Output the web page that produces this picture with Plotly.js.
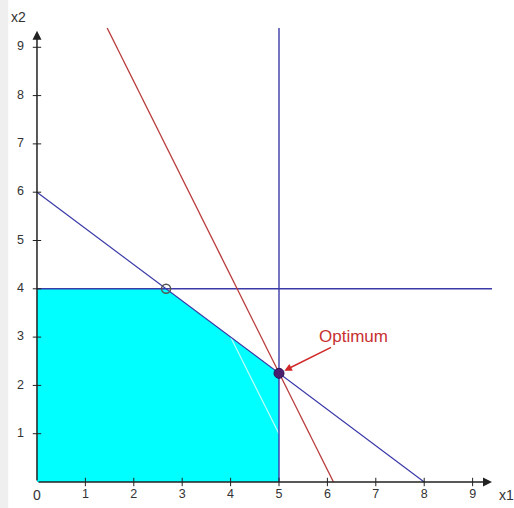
<!DOCTYPE html>
<html>
<head>
<meta charset="utf-8">
<script src="https://cdn.plot.ly/plotly-3.0.1.min.js"></script>
<style>
  html, body { margin: 0; padding: 0; background: #fff; }
  #chart { width: 514px; height: 508px; }
</style>
</head>
<body>
<div id="chart"></div>
<script>
// tick values on both axes
var ticks = [1, 2, 3, 4, 5, 6, 7, 8, 9];

// feasible region (cyan)
var feasX = [0, 5, 5, 2.667, 0];
var feasY = [0, 0, 2.25, 4, 4];

// constraint lines
var diagX = [0, 8];      var diagY = [6, 0];
var capX = [0, 9.4];     var capY = [4, 4];
var limX = [5, 5];       var limY = [0, 9.4];

// objective line and its earlier (faint) position
var objX = [1.45, 6.125]; var objY = [9.4, 0];
var oldX = [4.0, 5.0];    var oldY = [3.0, 1.0];

// points
var vertexX = [2.667];  var vertexY = [4];
var optX = [5];         var optY = [2.25];

var blue = '#3a3aa8';
var red = '#b83a3a';

var zeros = ticks.map(function () { return 0; });
var labelFont = { family: 'Liberation Sans, Arial, sans-serif', size: 12.5, color: '#333' };

var data = [
  { x: feasX, y: feasY, mode: 'lines', fill: 'toself', fillcolor: '#00ffff',
    line: { width: 0 } },
  { x: oldX, y: oldY, mode: 'lines', line: { color: 'rgba(255,255,255,0.75)', width: 1.2 } },
  { x: diagX, y: diagY, mode: 'lines', line: { color: blue, width: 1.2 } },
  { x: capX, y: capY, mode: 'lines', line: { color: blue, width: 1.4 } },
  { x: limX, y: limY, mode: 'lines', line: { color: blue, width: 1.4 } },
  { x: objX, y: objY, mode: 'lines', line: { color: red, width: 1.3 } },
  // tick marks
  { x: ticks, y: zeros, mode: 'markers',
    marker: { symbol: 'line-ns-open', size: 6, color: '#222', line: { color: '#222', width: 1 } } },
  { x: zeros, y: ticks, mode: 'markers',
    marker: { symbol: 'line-ew-open', size: 6, color: '#222', line: { color: '#222', width: 1 } } },
  // tick labels
  { x: ticks, y: zeros.map(function () { return -0.27; }), mode: 'text',
    text: ticks.map(String), textposition: 'middle center', textfont: labelFont },
  { x: zeros.map(function () { return -0.34; }), y: ticks, mode: 'text',
    text: ticks.map(String), textposition: 'middle center', textfont: labelFont },
  // corner points
  { x: vertexX, y: vertexY, mode: 'markers',
    marker: { symbol: 'circle-open', size: 9, color: '#555', line: { color: '#555', width: 1.5 } } },
  { x: optX, y: optY, mode: 'markers',
    marker: { symbol: 'circle', size: 10, color: '#4a1f6e', line: { color: '#2a1050', width: 1 } } }
];

var font = { family: 'Liberation Sans, Arial, sans-serif', size: 14, color: '#333' };

var layout = {
  width: 514,
  height: 508,
  margin: { l: 0, r: 0, t: 0, b: 0 },
  paper_bgcolor: '#fff',
  plot_bgcolor: '#fff',
  showlegend: false,
  hovermode: false,
  xaxis: { range: [-0.764, 9.855], visible: false, fixedrange: true },
  yaxis: { range: [-0.538, 9.979], visible: false, fixedrange: true },
  shapes: [
    { type: 'rect', xref: 'paper', yref: 'paper', x0: 0, x1: 0.016, y0: 0, y1: 1,
      fillcolor: '#efefef', line: { width: 0 }, layer: 'below' }
  ],
  annotations: [
    // axes with arrows
    { x: 9.4, y: 0, ax: 0, ay: 0, xref: 'x', yref: 'y', axref: 'x', ayref: 'y',
      text: '', showarrow: true, arrowhead: 2, arrowsize: 1.2, arrowwidth: 1.5, arrowcolor: '#222' },
    { x: 0, y: 9.34, ax: 0, ay: 0, xref: 'x', yref: 'y', axref: 'x', ayref: 'y',
      text: '', showarrow: true, arrowhead: 2, arrowsize: 1.2, arrowwidth: 1.5, arrowcolor: '#222' },
    { x: 0, y: -0.27, text: '0', showarrow: false, font: font },
    { x: 9.69, y: -0.27, text: 'x1', showarrow: false, font: font },
    { x: -0.39, y: 9.63, text: 'x2', showarrow: false, font: font },
    // optimum label
    { x: optX[0], y: optY[0], text: 'Optimum', showarrow: true,
      ax: 74, ay: -37, standoff: 6, arrowhead: 2, arrowsize: 1, arrowwidth: 1.5,
      arrowcolor: '#d02828',
      font: { family: 'Liberation Sans, Arial, sans-serif', size: 17, color: '#c83030' } }
  ]
};

Plotly.newPlot('chart', data, layout, { staticPlot: true, displayModeBar: false });
</script>
</body>
</html>
